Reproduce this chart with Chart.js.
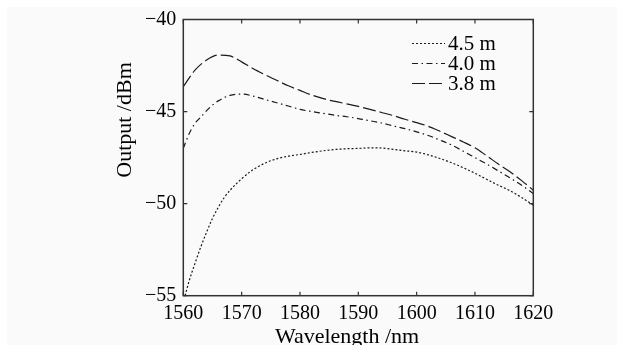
<!DOCTYPE html>
<html>
<head>
<meta charset="utf-8">
<script src="https://cdn.jsdelivr.net/npm/chart.js@4/dist/chart.umd.min.js"></script>
<style>
  html, body { margin: 0; padding: 0; background: #ffffff; }
  #wrap { position: relative; width: 617px; height: 345px; }
</style>
</head>
<body>
<div id="wrap"><canvas id="c" width="617" height="345"></canvas></div>
<script>
// ---- data ----
const seriesLabels = ['4.5 m', '4.0 m', '3.8 m'];

const wl45  = [1560.3, 1561, 1562, 1563, 1564, 1565, 1566, 1567, 1568, 1570, 1572, 1574, 1576, 1578, 1580, 1582, 1584, 1586, 1588, 1590, 1592, 1594, 1596, 1598, 1600, 1602, 1604, 1606, 1608, 1610, 1612, 1614, 1616, 1618, 1620];
const out45 = [-55.0, -54.2, -53.25, -52.35, -51.55, -50.8, -50.2, -49.68, -49.28, -48.65, -48.15, -47.8, -47.57, -47.42, -47.33, -47.22, -47.13, -47.06, -47.02, -47.0, -46.97, -46.98, -47.05, -47.13, -47.2, -47.35, -47.55, -47.78, -48.05, -48.35, -48.68, -49.0, -49.3, -49.67, -50.08];

const wl40  = [1560, 1561, 1562, 1563, 1564, 1565, 1566, 1568, 1570, 1572, 1574, 1576, 1578, 1580, 1582, 1584, 1586, 1588, 1590, 1592, 1594, 1596, 1598, 1600, 1602, 1604, 1606, 1608, 1610, 1612, 1614, 1616, 1618, 1620];
const out40 = [-47.0, -46.2, -45.64, -45.3, -44.95, -44.65, -44.42, -44.12, -44.05, -44.16, -44.35, -44.52, -44.7, -44.88, -45.0, -45.1, -45.2, -45.28, -45.38, -45.5, -45.62, -45.78, -45.93, -46.1, -46.3, -46.55, -46.82, -47.15, -47.5, -47.85, -48.22, -48.6, -49.0, -49.45];

const wl38  = [1560, 1562, 1564, 1566, 1568, 1570, 1572, 1574, 1576, 1578, 1580, 1582, 1584, 1586, 1588, 1590, 1592, 1594, 1596, 1598, 1600, 1602, 1604, 1606, 1608, 1610, 1612, 1614, 1616, 1618, 1620];
const out38 = [-43.65, -42.75, -42.2, -41.93, -41.98, -42.3, -42.68, -43.0, -43.3, -43.6, -43.85, -44.1, -44.3, -44.45, -44.58, -44.72, -44.88, -45.05, -45.22, -45.42, -45.6, -45.8, -46.07, -46.36, -46.65, -46.97, -47.4, -47.85, -48.27, -48.75, -49.27];

const xTicks = [1560, 1570, 1580, 1590, 1600, 1610, 1620];
const yTicks = [-40, -45, -50, -55];
const xTitle = 'Wavelength /nm';
const yTitle = 'Output /dBm';

// ---- helpers ----
const pts = (xs, ys) => xs.map((x, i) => ({ x: x, y: ys[i] }));
const SERIF = '"Liberation Serif", "Times New Roman", serif';
const INK = '#1a1a1a';

const ds = (label, xs, ys, dash) => ({
  label: label,
  data: pts(xs, ys),
  borderColor: INK,
  borderWidth: 1.2,
  borderDash: dash,
  pointRadius: 0,
  fill: false,
  cubicInterpolationMode: 'monotone',
  showLine: true
});

const decor = {
  id: 'decor',
  beforeDraw(chart) {
    const ctx = chart.ctx;
    ctx.save();
    ctx.fillStyle = '#fafafa';
    ctx.fillRect(7, 7, chart.width - 7, chart.height - 7);
    ctx.restore();
  },
  afterDraw(chart) {
    const ctx = chart.ctx;
    const a = chart.chartArea;
    const xs = chart.scales.x, ys = chart.scales.y;
    ctx.save();
    // frame
    ctx.strokeStyle = '#333333';
    ctx.lineWidth = 1.5;
    ctx.setLineDash([]);
    ctx.strokeRect(a.left, a.top, a.right - a.left, a.bottom - a.top);
    // inward ticks
    ctx.lineWidth = 1.2;
    const L = 4;
    xTicks.forEach(v => {
      const p = xs.getPixelForValue(v);
      ctx.beginPath();
      ctx.moveTo(p, a.bottom); ctx.lineTo(p, a.bottom - L);
      ctx.moveTo(p, a.top); ctx.lineTo(p, a.top + L);
      ctx.stroke();
    });
    yTicks.forEach(v => {
      const p = ys.getPixelForValue(v);
      ctx.beginPath();
      ctx.moveTo(a.left, p); ctx.lineTo(a.left + L, p);
      ctx.moveTo(a.right, p); ctx.lineTo(a.right - L, p);
      ctx.stroke();
    });
    // axis titles
    ctx.fillStyle = '#000000';
    ctx.font = '22px ' + SERIF;
    ctx.textAlign = 'center';
    ctx.textBaseline = 'alphabetic';
    ctx.fillText(xTitle, 347, 343);
    ctx.save();
    ctx.translate(131, 120);
    ctx.rotate(-Math.PI / 2);
    ctx.fillText(yTitle, 0, 0);
    ctx.restore();
    // legend
    ctx.font = '21px ' + SERIF;
    ctx.textAlign = 'left';
    ctx.textBaseline = 'middle';
    chart.data.datasets.forEach((d, i) => {
      const y = 43.5 + i * 20;
      ctx.strokeStyle = INK;
      ctx.lineWidth = 1.2;
      ctx.setLineDash(d.borderDash || []);
      ctx.beginPath();
      ctx.moveTo(412, y); ctx.lineTo(445, y);
      ctx.stroke();
      ctx.setLineDash([]);
      ctx.fillText(d.label, 448, y + 1);
    });
    ctx.restore();
  }
};

new Chart(document.getElementById('c'), {
  type: 'line',
  data: {
    datasets: [
      ds(seriesLabels[0], wl45, out45, [2, 2]),
      ds(seriesLabels[1], wl40, out40, [6, 3.5, 1.5, 3.5]),
      ds(seriesLabels[2], wl38, out38, [13, 4])
    ]
  },
  options: {
    responsive: false,
    animation: false,
    devicePixelRatio: 1,
    layout: { padding: { left: 0, right: 83.7, top: 19.5, bottom: 0 } },
    plugins: { legend: { display: false }, tooltip: { enabled: false } },
    scales: {
      x: {
        type: 'linear',
        min: 1560, max: 1620,
        afterBuildTicks: s => { s.ticks = xTicks.map(v => ({ value: v })); },
        afterFit: s => { s.height = 49.3; },
        grid: { display: false, drawTicks: false },
        border: { display: false },
        ticks: {
          padding: 6,
          color: '#000000',
          font: { family: SERIF, size: 20 },
          maxRotation: 0,
          callback: v => String(v)
        }
      },
      y: {
        type: 'linear',
        min: -55, max: -40,
        afterBuildTicks: s => { s.ticks = yTicks.map(v => ({ value: v })); },
        afterFit: s => { s.width = 183.3; },
        grid: { display: false, drawTicks: false },
        border: { display: false },
        ticks: {
          padding: 7,
          color: '#000000',
          font: { family: SERIF, size: 20 },
          callback: v => String(v).replace('-', '\u2212')
        }
      }
    }
  },
  plugins: [decor]
});
</script>
</body>
</html>
